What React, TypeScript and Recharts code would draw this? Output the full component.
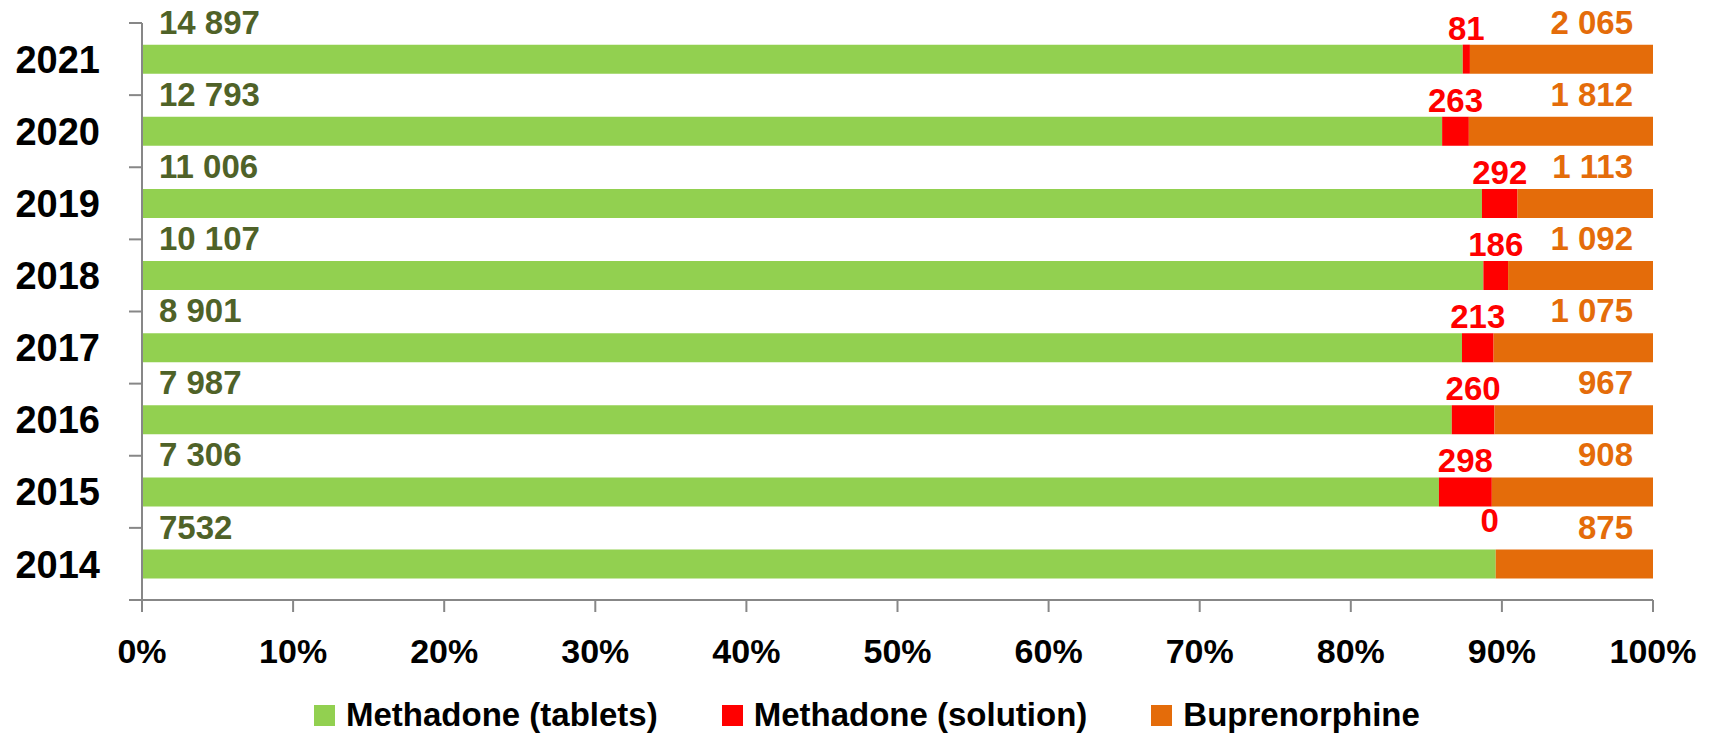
import React from 'react';
import { BarChart, Bar, XAxis, YAxis, Legend, LabelList } from 'recharts';

const years = ['2021', '2020', '2019', '2018', '2017', '2016', '2015', '2014'];
const tablets = [14897, 12793, 11006, 10107, 8901, 7987, 7306, 7532];
const solution = [81, 263, 292, 186, 213, 260, 298, 0];
const bupren = [2065, 1812, 1113, 1092, 1075, 967, 908, 875];
const tabletLabels = ['14 897', '12 793', '11 006', '10 107', '8 901', '7 987', '7 306', '7532'];
const solutionLabels = ['81', '263', '292', '186', '213', '260', '298', '0'];
const buprenLabels = ['2 065', '1 812', '1 113', '1 092', '1 075', '967', '908', '875'];
const xTicks = [0, 0.1, 0.2, 0.3, 0.4, 0.5, 0.6, 0.7, 0.8, 0.9, 1];

const seriesNames = ['Methadone (tablets)', 'Methadone (solution)', 'Buprenorphine'];
const seriesColors = ['#92D050', '#FF0000', '#E46C0A'];
const labelColors = ['#4F6228', '#FF0000', '#E46C0A'];

const data = years.map((y, i) => ({
  year: y,
  tablets: tablets[i],
  solution: solution[i],
  bupren: bupren[i],
}));

const W = 1710;
const H = 735;
const M = { top: 23, right: 57, left: 0, bottom: 0 };
const LEGEND_H = 40;
const XAXIS_H = 95;
const PLOT_H = H - M.top - M.bottom - LEGEND_H - XAXIS_H;
const BAND = PLOT_H / years.length;
const FONT = '"Liberation Sans", Arial, sans-serif';
const AXIS_COLOR = '#878787';
const LABEL_SIZE = 33;

const YTick = (props: any) => {
  const { x, y, payload, index } = props;
  return (
    <g>
      <text x={x - 42} y={y} dy="0.36em" textAnchor="end" fontSize={38} fontWeight={700} fill="#000" fontFamily={FONT}>
        {payload.value}
      </text>
      <line x1={x - 13} x2={x} y1={y - BAND / 2} y2={y - BAND / 2} stroke={AXIS_COLOR} strokeWidth={2} />
      {index === years.length - 1 && (
        <line x1={x - 13} x2={x} y1={y + BAND / 2} y2={y + BAND / 2} stroke={AXIS_COLOR} strokeWidth={2} />
      )}
    </g>
  );
};

const TabletLabel = (props: any) => {
  const { x, y, index } = props;
  return (
    <text x={x + 17} y={y - 11} textAnchor="start" fontSize={LABEL_SIZE} fontWeight={700} fill={labelColors[0]} fontFamily={FONT}>
      {tabletLabels[index]}
    </text>
  );
};

const SolutionLabel = (props: any) => {
  const { x, y, width, index } = props;
  return (
    <text x={x + width / 2} y={y - 5} textAnchor="middle" fontSize={LABEL_SIZE} fontWeight={700} fill={labelColors[1]} fontFamily={FONT}>
      {solutionLabels[index]}
    </text>
  );
};

const BuprenLabel = (props: any) => {
  const { x, y, width, index } = props;
  return (
    <g>
      <text x={x + width - 20} y={y - 11} textAnchor="end" fontSize={LABEL_SIZE} fontWeight={700} fill={labelColors[2]} fontFamily={FONT}>
        {buprenLabels[index]}
      </text>
      {solution[index] === 0 && (
        <text x={x - 6} y={y - 18} textAnchor="middle" fontSize={LABEL_SIZE} fontWeight={700} fill={labelColors[1]} fontFamily={FONT}>
          {solutionLabels[index]}
        </text>
      )}
    </g>
  );
};

const LegendContent = () => (
  <div
    style={{
      height: LEGEND_H,
      display: 'flex',
      alignItems: 'center',
      justifyContent: 'flex-start',
      paddingLeft: 314,
      fontFamily: FONT,
      fontWeight: 700,
      fontSize: 33,
      color: '#000',
      boxSizing: 'border-box',
    }}
  >
    {seriesNames.map((n, i) => (
      <div key={n} style={{ display: 'flex', alignItems: 'center', marginRight: i < 2 ? 64 : 0 }}>
        <div style={{ width: 21, height: 21, background: seriesColors[i], marginRight: 11 }} />
        <span style={{ lineHeight: '40px', whiteSpace: 'nowrap' }}>{n}</span>
      </div>
    ))}
  </div>
);

export default function App() {
  return (
    <div style={{ position: 'fixed', left: 0, top: 0, width: W, height: H, background: '#fff', fontFamily: FONT }}>
      <BarChart
        width={W}
        height={H}
        data={data}
        layout="vertical"
        stackOffset="expand"
        barCategoryGap="30%"
        margin={M}
      >
        <XAxis
          type="number"
          domain={[0, 1]}
          ticks={xTicks}
          tickFormatter={(v: number) => `${Math.round(v * 100)}%`}
          height={XAXIS_H}
          tickSize={12}
          tickMargin={27}
          axisLine={{ stroke: AXIS_COLOR, strokeWidth: 2 }}
          tickLine={{ stroke: AXIS_COLOR, strokeWidth: 2 }}
          tick={{ fontSize: 34, fontWeight: 700, fill: '#000', fontFamily: FONT }}
          interval={0}
        />
        <YAxis
          type="category"
          dataKey="year"
          width={142}
          tickSize={0}
          tickMargin={0}
          tickLine={false}
          axisLine={{ stroke: AXIS_COLOR, strokeWidth: 2 }}
          tick={<YTick />}
          interval={0}
        />
        <Legend verticalAlign="bottom" content={<LegendContent />} wrapperStyle={{ left: 0, width: W, height: LEGEND_H }} />
        <Bar dataKey="tablets" name={seriesNames[0]} stackId="a" fill={seriesColors[0]} isAnimationActive={false}>
          <LabelList dataKey="tablets" content={<TabletLabel />} />
        </Bar>
        <Bar dataKey="solution" name={seriesNames[1]} stackId="a" fill={seriesColors[1]} isAnimationActive={false}>
          <LabelList dataKey="solution" content={<SolutionLabel />} />
        </Bar>
        <Bar dataKey="bupren" name={seriesNames[2]} stackId="a" fill={seriesColors[2]} isAnimationActive={false}>
          <LabelList dataKey="bupren" content={<BuprenLabel />} />
        </Bar>
      </BarChart>
    </div>
  );
}
